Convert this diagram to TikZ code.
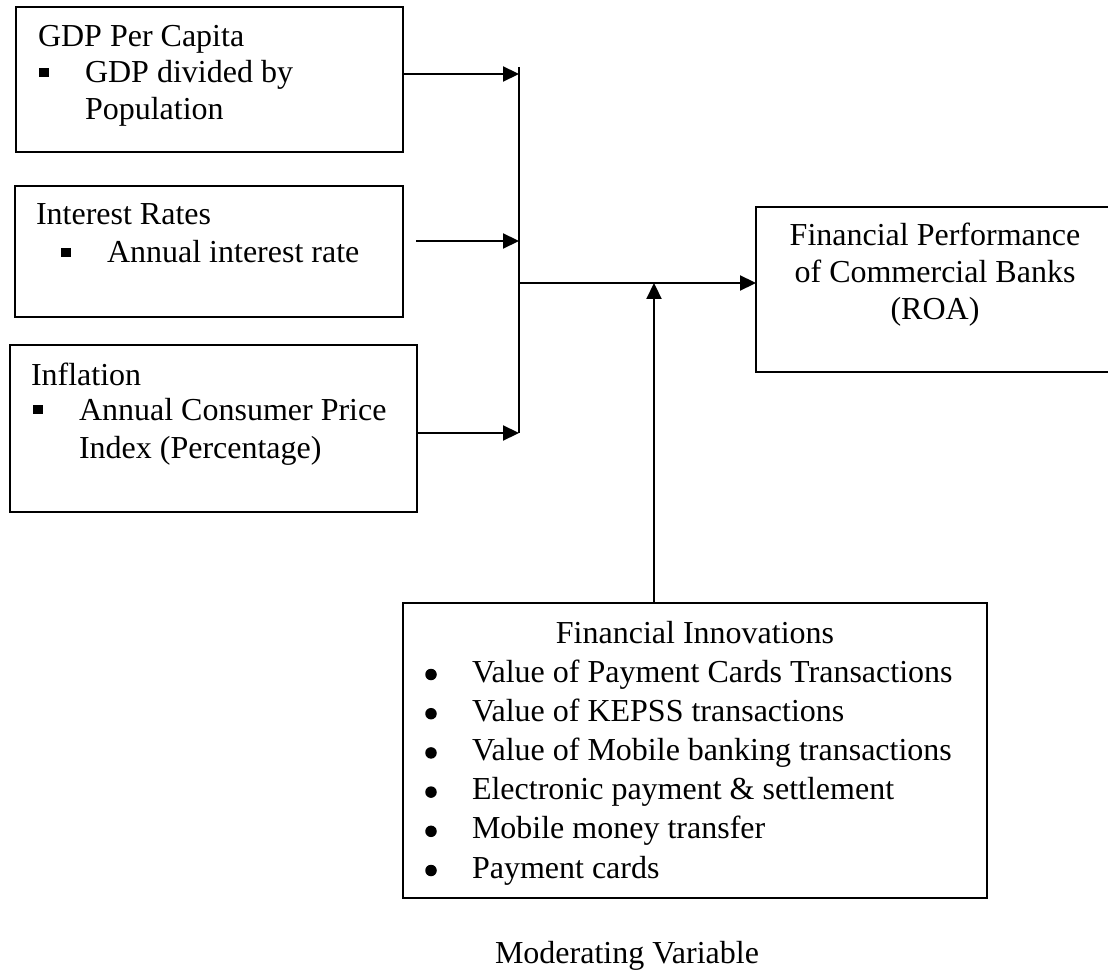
\documentclass[tikz,border=0pt]{standalone}
\usepackage{fontspec}
\setmainfont{Liberation Serif}
\usetikzlibrary{arrows.meta,calc}

\tikzset{
  box/.style={draw, line width=2pt, inner sep=0pt, outer sep=0pt, anchor=north west},
  txt/.style={inner sep=0pt, outer sep=0pt, font=\fontsize{32}{38}\selectfont},
  lt/.style={txt, anchor=base west},
  ct/.style={txt, anchor=base},
  sqbullet/.style={fill, rectangle, minimum size=9.5pt, inner sep=0pt},
  rdbullet/.style={fill, circle, minimum size=11.5pt, inner sep=0pt},
  arr/.style={line width=2.2pt, -{Triangle[length=16pt,width=15pt]}},
  joinline/.style={line width=1.4pt},
}

\begin{document}
\begin{tikzpicture}[x=1pt, y=-1pt]
\useasboundingbox (0,0) rectangle (1108,973);
\clip (0,0) rectangle (1108,973);

% independent variables
\node[box, minimum width=387pt, minimum height=145pt] (gdp) at (16,7) {};
\node[lt] (gdpT) at (38,47) {GDP Per Capita};
\node[sqbullet] (gdpB) at (44,72.5) {};
\node[lt] (gdpI1) at (85,83) {GDP divided by};
\node[lt] (gdpI2) at (85,120) {Population};

\node[box, minimum width=388pt, minimum height=131pt] (ir) at (15,186) {};
\node[lt] (irT) at (36,225) {Interest Rates};
\node[sqbullet] (irB) at (66,252.5) {};
\node[lt] (irI1) at (107,263) {Annual interest rate};

\node[box, minimum width=407pt, minimum height=167pt] (inf) at (10,345) {};
\node[lt] (infT) at (31,385) {Inflation};
\node[sqbullet] (infB) at (38,409.5) {};
\node[lt] (infI1) at (79,420) {Annual Consumer Price};
\node[lt] (infI2) at (79,458) {Index (Percentage)};

% dependent variable
\node[box, minimum width=358pt, minimum height=165pt] (fp) at (756,207) {};
\node[ct] (fpL1) at (935,246) {Financial Performance};
\node[ct] (fpL2) at (935,283) {of Commercial Banks};
\node[ct] (fpL3) at (935,320) {(ROA)};

% moderating variable
\node[box, minimum width=584pt, minimum height=295pt] (fi) at (403,603) {};
\node[ct] (fiT) at (695,643) {Financial Innovations};
\foreach \i/\t [count=\k from 0] in {a/Value of Payment Cards Transactions,
  b/Value of KEPSS transactions,
  c/Value of Mobile banking transactions,
  d/Electronic payment \& settlement,
  e/Mobile money transfer,
  f/Payment cards} {
  \node[rdbullet] (fiB\i) at (431,{682+39.2*\k-7.5}) {};
  \node[lt] (fiI\i) at (472,{682+39.2*\k}) {\t};
}
\node[lt] (mv) at (495,963) {Moderating Variable};

% junction points
\coordinate (j1) at (519,74);
\coordinate (j2) at (519,241);
\coordinate (j3) at (519,433);
\coordinate (jt) at (519,67);
\coordinate (jm) at (519,283);
\coordinate (s2) at (416,241);
\coordinate (mj) at (654,283);

% connectors
\draw[joinline] (jt) -- (j3);
\draw[arr] (gdp.east |- j1) -- (j1);
\draw[arr] (s2) -- (j2);
\draw[arr] (inf.east |- j3) -- (j3);
\draw[arr] (jm) -- (fp.west |- jm);
\draw[arr] (mj |- fi.north) -- (mj);
\end{tikzpicture}
\end{document}
